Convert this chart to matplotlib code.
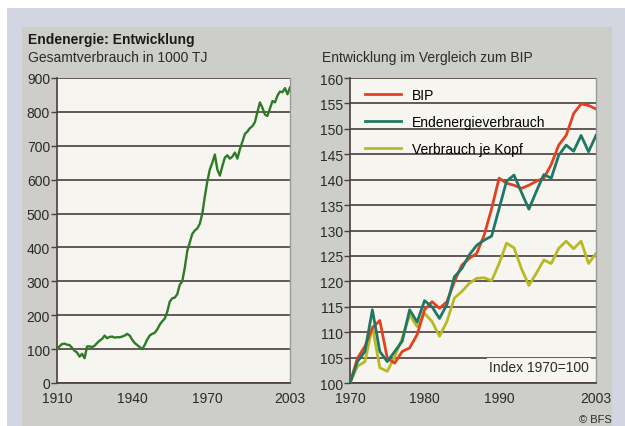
import matplotlib
matplotlib.use("Agg")
import matplotlib.pyplot as plt
from matplotlib.patches import Rectangle

plt.rcParams['font.family'] = ['Liberation Sans', 'DejaVu Sans']

# ---- data ----
years_total = list(range(1910, 2004))
total_1000TJ = [100, 108, 115, 116, 113, 112, 104, 95, 90, 78,
                86, 73, 108, 108, 106, 110, 118, 125, 130, 140,
                132, 136, 137, 134, 135, 135, 137, 140, 145, 140,
                128, 118, 112, 106, 100, 112, 128, 140, 145, 148,
                158, 172, 182, 190, 210, 240, 250, 252, 262, 290,
                300, 340, 390, 415, 440, 450, 456, 470, 500, 550,
                595, 630, 650, 674, 630, 612, 640, 665, 672, 662,
                668, 680, 662, 690, 712, 735, 742, 752, 758, 770,
                800, 828, 812, 792, 788, 810, 832, 828, 848, 860,
                858, 870, 852, 872]

years_idx = list(range(1970, 2004))
bip = [100, 104.9, 107.2, 110.8, 112.3, 104.9, 103.9, 106.2, 106.9, 109.5,
       114.4, 116.0, 114.7, 116.0, 119.9, 123.2, 124.5, 125.5, 129.1, 134.3,
       140.3, 139.3, 138.9, 138.3, 138.9, 139.7, 140.3, 143.0, 146.8, 148.7,
       153.0, 154.9, 154.6, 153.9]
endenergie = [100, 104.2, 106.2, 114.4, 106.2, 104.2, 106.2, 108.2, 114.4, 112.0,
              116.2, 115.0, 112.7, 115.4, 120.9, 122.5, 125.2, 127.1, 128.1, 128.9,
              134.3, 139.7, 140.9, 137.5, 134.2, 137.7, 141.0, 140.3, 144.8, 146.8,
              145.6, 148.7, 145.5, 148.7]
je_kopf = [100, 103.3, 104.2, 111.1, 103.0, 102.3, 105.2, 108.8, 113.4, 111.1,
           113.7, 112.1, 109.2, 112.1, 116.7, 118.0, 119.6, 120.6, 120.7, 120.1,
           123.5, 127.5, 126.6, 122.5, 119.2, 121.6, 124.2, 123.5, 126.5, 127.9,
           126.4, 127.9, 123.5, 125.5]

left_xticks = [1910, 1940, 1970, 2003]
right_xticks = [1970, 1980, 1990, 2003]
left_yticks = list(range(0, 901, 100))
right_yticks = list(range(100, 161, 5))

series_labels = ["BIP", "Endenergieverbrauch", "Verbrauch je Kopf"]

# ---- styling ----
W, H = 625, 427
fig = plt.figure(figsize=(W / 100, H / 100), dpi=100)
fig.patch.set_facecolor("white")

# outer bluish textured area and grey panel
fig.patches.append(Rectangle((7 / W, 0), 1 - 7 / W, 1 - 9 / H, transform=fig.transFigure,
                             facecolor="#d3d5e0", edgecolor="none", zorder=-3))
fig.patches.append(Rectangle((22 / W, 0), (612 - 22) / W, 1 - 28 / H, transform=fig.transFigure,
                             facecolor="#cdcdca", edgecolor="none", zorder=-2))

grid_c = "#4a3e3e"
plot_bg = "#f6f5f0"
fs = 10


def style_axes(ax):
    ax.set_facecolor(plot_bg)
    ax.spines["top"].set_visible(False)
    ax.spines["right"].set_color("#9a9a9a")
    ax.spines["right"].set_linewidth(1.0)
    ax.spines["left"].set_color(grid_c)
    ax.spines["bottom"].set_color(grid_c)
    ax.spines["left"].set_linewidth(1.2)
    ax.spines["bottom"].set_linewidth(1.2)
    ax.grid(axis="y", color=grid_c, linewidth=1.2)
    ax.set_axisbelow(True)
    ax.tick_params(axis="y", length=4, width=1, color=grid_c, labelsize=fs, pad=1,
                   labelcolor="#2a2a2a")
    ax.tick_params(axis="x", length=0, labelsize=fs, pad=5.5, labelcolor="#2a2a2a")


# left axes
axL = fig.add_axes([57 / W, 1 - 384 / H, (290 - 57) / W, (384 - 79) / H])
style_axes(axL)
axL.plot(years_total, total_1000TJ, color="#2e7a26", linewidth=1.7, zorder=3)
axL.set_xlim(1910, 2003)
axL.set_ylim(0, 900)
axL.set_xticks(left_xticks)
axL.set_yticks(left_yticks)

# right axes
axR = fig.add_axes([350 / W, 1 - 384 / H, (596 - 350) / W, (384 - 79) / H])
style_axes(axR)
lw = 2.0
axR.plot(years_idx, bip, color="#e2421f", linewidth=lw, label=series_labels[0], zorder=4)
axR.plot(years_idx, endenergie, color="#1f7765", linewidth=lw, label=series_labels[1], zorder=5)
axR.plot(years_idx, je_kopf, color="#b9b925", linewidth=lw, label=series_labels[2], zorder=3)
axR.set_xlim(1970, 2003)
axR.set_ylim(100, 160)
axR.set_xticks(right_xticks)
axR.set_yticks(right_yticks)
leg = axR.legend(loc="upper left", frameon=False, fontsize=fs, handlelength=2.6,
                 labelspacing=0.95, handletextpad=0.8, borderaxespad=0.3,
                 bbox_to_anchor=(0.02, 1.0))
axR.text(0.97, 0.03, "Index 1970=100", transform=axR.transAxes, ha="right", va="bottom",
         fontsize=fs, color="#2a2a2a",
         bbox=dict(facecolor=plot_bg, edgecolor="none", pad=1.5))

# titles
fig.text(28 / W, 1 - 40 / H, "Endenergie: Entwicklung", fontsize=fs, fontweight="bold",
         va="center", ha="left", color="#1a1a1a")
fig.text(28 / W, 1 - 58 / H, "Gesamtverbrauch in 1000 TJ", fontsize=fs,
         va="center", ha="left", color="#2a2a2a")
fig.text(322 / W, 1 - 58 / H, "Entwicklung im Vergleich zum BIP", fontsize=fs,
         va="center", ha="left", color="#2a2a2a")
fig.text(612 / W, 1 - 420 / H, "\u00a9 BFS", fontsize=8, va="center", ha="right",
         color="#2a2a2a")

fig.savefig("out.png", dpi=100)
